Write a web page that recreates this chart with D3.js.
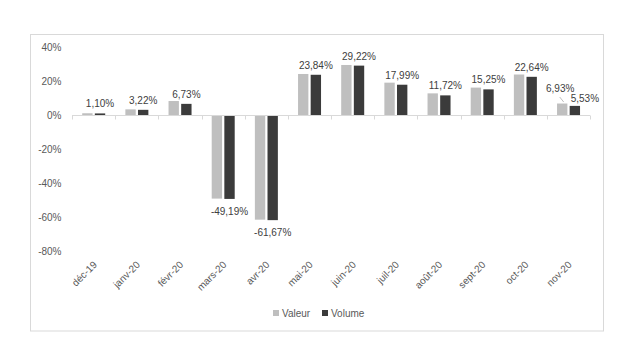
<!DOCTYPE html>
<html><head><meta charset="utf-8">
<script src="https://cdn.jsdelivr.net/npm/d3@7"></script>
<style>body{margin:0;background:#fff;} svg{display:block;font-family:"Liberation Sans",Arial,sans-serif;}</style>
</head><body>
<script>
const categories = ["déc-19","janv-20","févr-20","mars-20","avr-20","mai-20","juin-20","juil-20","août-20","sept-20","oct-20","nov-20"];
const valeur = [1.2, 3.5, 8.4, -49.0, -61.4, 24.3, 29.6, 19.2, 12.9, 16.3, 24.0, 6.93];
const volume = [1.10, 3.22, 6.73, -49.19, -61.67, 23.84, 29.22, 17.99, 11.72, 15.25, 22.64, 5.53];
const seriesNames = ["Valeur", "Volume"];
const yTicks = [40, 20, 0, -20, -40, -60, -80];

const W = 620, H = 350;
const colors = {Valeur: "#bfbfbf", Volume: "#3b3b3b"};
const svg = d3.select("body").append("svg").attr("width", W).attr("height", H);
svg.append("rect").attr("x", 30.5).attr("y", 34.5).attr("width", 573).attr("height", 296.5)
  .attr("fill", "#fff").attr("stroke", "#d9d9d9");

const x0 = d3.scaleBand().domain(categories).range([72, 590]);
const x1 = d3.scaleBand().domain(seriesNames).range([10.2, 33.2]).paddingInner(0.18);
const y = d3.scaleLinear().domain([-80, 40]).range([251.3, 47.3]);
const fmt = v => (v < 0 ? "-" : "") + d3.format(".2f")(Math.abs(v)).replace(".", ",") + "%";

// y tick labels
svg.append("g").selectAll("text").data(yTicks).join("text")
  .attr("x", 61.5).attr("y", d => y(d)).attr("dy", "0.35em")
  .attr("text-anchor", "end").attr("font-size", 10).attr("fill", "#595959")
  .text(d => d + "%");

// bars
const groups = svg.append("g").selectAll("g").data(categories).join("g")
  .attr("transform", d => `translate(${x0(d)},0)`);
groups.selectAll("rect").data((d, i) => [{s: "Valeur", v: valeur[i]}, {s: "Volume", v: volume[i]}])
  .join("rect")
  .attr("x", d => x1(d.s)).attr("width", x1.bandwidth())
  .attr("y", d => y(Math.max(0, d.v))).attr("height", d => Math.abs(y(d.v) - y(0)))
  .attr("fill", d => colors[d.s]);

// x axis line + ticks
const ax = svg.append("g").attr("stroke", "#d9d9d9").attr("stroke-width", 1);
ax.append("line").attr("x1", 72).attr("x2", 590).attr("y1", Math.round(y(0)) + 0.5).attr("y2", Math.round(y(0)) + 0.5);
const bounds = categories.map(c => x0(c)).concat([590]);
ax.selectAll("line.t").data(bounds).join("line").attr("class", "t")
  .attr("x1", d => Math.round(d) + 0.5).attr("x2", d => Math.round(d) + 0.5)
  .attr("y1", Math.round(y(0)) + 0.5).attr("y2", Math.round(y(0)) + 4.5);

// x labels (low position)
svg.append("g").selectAll("text").data(categories).join("text")
  .attr("transform", d => `translate(${x0(d) + x0.bandwidth() / 2 + 4},${y(-80) + 14}) rotate(-45)`)
  .attr("text-anchor", "end").attr("font-size", 10).attr("fill", "#595959")
  .text(d => d);

// data labels (volume series)
const lbl = svg.append("g").attr("font-size", 10).attr("fill", "#404040").attr("text-anchor", "middle");
volume.forEach((v, i) => {
  const c = categories[i];
  let cx = x0(c) + x1("Volume") + x1.bandwidth() / 2;
  let yy = v >= 0 ? y(v) - 6 : y(v) + 16;
  if (i === categories.length - 1) { cx += 10; yy = y(v) - 4; }
  lbl.append("text").attr("x", cx).attr("y", yy).text(fmt(v));
});
// moved valeur label for last category with leader line
{
  const i = categories.length - 1, c = categories[i];
  const bx = x0(c) + x1("Valeur") + x1.bandwidth() / 2;
  lbl.append("text").attr("x", bx - 2).attr("y", y(valeur[i]) - 12).text(fmt(valeur[i]));
  svg.append("line").attr("x1", bx - 2.5).attr("y1", y(valeur[i]) - 6.5).attr("x2", bx + 1.5).attr("y2", y(valeur[i]) - 1.5)
    .attr("stroke", "#bfbfbf").attr("stroke-width", 1);
}

// legend
const leg = svg.append("g").attr("font-size", 10).attr("fill", "#595959");
[["Valeur", 273], ["Volume", 322]].forEach(([n, lx]) => {
  leg.append("rect").attr("x", lx).attr("y", 310).attr("width", 6).attr("height", 6).attr("fill", colors[n]);
  leg.append("text").attr("x", lx + 9).attr("y", 313).attr("dy", "0.35em").text(n);
});
</script>
</body></html>
